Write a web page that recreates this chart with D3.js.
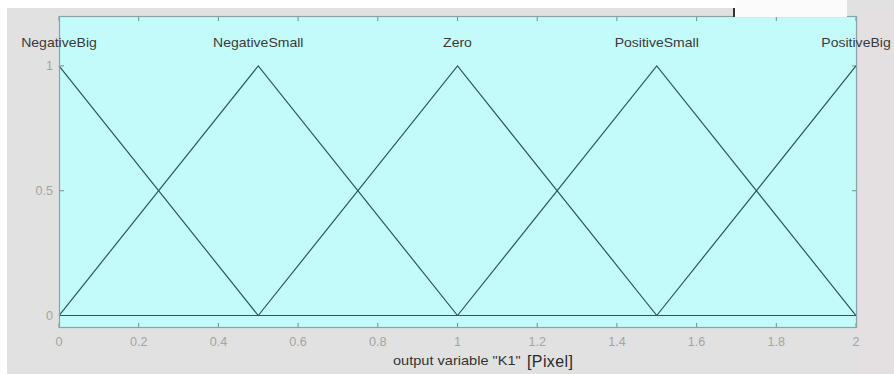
<!DOCTYPE html>
<html>
<head>
<meta charset="utf-8">
<script src="https://cdn.jsdelivr.net/npm/d3@7/dist/d3.min.js"></script>
<style>
  html, body { margin: 0; padding: 0; background: #ffffff; }
  svg { display: block; }
  text { font-family: "Liberation Sans", Arial, sans-serif; }
</style>
</head>
<body>
<svg id="chart" width="894" height="374"></svg>
<script>
// Membership functions of output variable "K1" (triangular, over [0, 2])
const mfNames = ["NegativeBig", "NegativeSmall", "Zero", "PositiveSmall", "PositiveBig"];
const mfX = [
  [0, 0.5, 2],
  [0, 0.5, 1, 2],
  [0, 0.5, 1, 1.5, 2],
  [0, 1, 1.5, 2],
  [0, 1.5, 2]
];
const mfY = [
  [1, 0, 0],
  [0, 1, 0, 0],
  [0, 0, 1, 0, 0],
  [0, 0, 1, 0],
  [0, 0, 1]
];
const xTicks = [0, 0.2, 0.4, 0.6, 0.8, 1, 1.2, 1.4, 1.6, 1.8, 2];
const yTicks = [0, 0.5, 1];
const xTickLabels = ["0", "0.2", "0.4", "0.6", "0.8", "1", "1.2", "1.4", "1.6", "1.8", "2"];
const yTickLabels = ["0", "0.5", "1"];
const xLabel = "output variable \"K1\"";
const unitLabel = "[Pixel]";

const svg = d3.select("#chart");
const W = 894, H = 374;

// figure background
svg.append("rect").attr("x", 7).attr("y", 8).attr("width", W - 7).attr("height", H - 8).attr("fill", "#e1e1e1");
svg.append("rect").attr("x", 847).attr("y", 0).attr("width", W - 847).attr("height", 8).attr("fill", "#e1e1e1");
svg.append("rect").attr("x", 857).attr("y", 8).attr("width", W - 857).attr("height", H - 8).attr("fill", "#e4dfe0");

const plot = { left: 59, right: 856, top: 16, bottom: 328 };
const x = d3.scaleLinear().domain([0, 2]).range([plot.left, plot.right]);
const y = d3.scaleLinear().domain([-0.05, 1.2]).range([plot.bottom, plot.top]);

// axes area
svg.append("rect")
  .attr("x", plot.left).attr("y", plot.top)
  .attr("width", plot.right - plot.left + 1).attr("height", plot.bottom - plot.top)
  .attr("fill", "#c3fbfb");

// tick marks (inside, on all four sides)
const tickColor = "#6f8f8f";
const tl = 5;
const g = svg.append("g");
g.selectAll(".xtb").data(xTicks).join("line")
  .attr("x1", d => x(d)).attr("x2", d => x(d))
  .attr("y1", plot.bottom).attr("y2", plot.bottom - tl)
  .attr("stroke", tickColor).attr("stroke-width", 1);
g.selectAll(".xtt").data(xTicks).join("line")
  .attr("x1", d => x(d)).attr("x2", d => x(d))
  .attr("y1", plot.top).attr("y2", plot.top + tl)
  .attr("stroke", tickColor).attr("stroke-width", 1);
g.selectAll(".ytl").data(yTicks).join("line")
  .attr("x1", plot.left).attr("x2", plot.left + tl)
  .attr("y1", d => y(d)).attr("y2", d => y(d))
  .attr("stroke", tickColor).attr("stroke-width", 1);
g.selectAll(".ytr").data(yTicks).join("line")
  .attr("x1", plot.right + 1).attr("x2", plot.right + 1 - tl)
  .attr("y1", d => y(d)).attr("y2", d => y(d))
  .attr("stroke", tickColor).attr("stroke-width", 1);

// membership function curves
const line = d3.line().x(d => x(d[0])).y(d => y(d[1]));
svg.append("g").selectAll("path").data(mfX.map((xs, i) => xs.map((v, j) => [v, mfY[i][j]])))
  .join("path")
  .attr("d", line)
  .attr("fill", "none")
  .attr("stroke", "#2c5858")
  .attr("stroke-width", 1.2)
  .attr("stroke-linejoin", "miter");

// axes box
svg.append("rect")
  .attr("x", plot.left + 0.5).attr("y", plot.top + 0.5)
  .attr("width", plot.right - plot.left).attr("height", plot.bottom - plot.top - 1)
  .attr("fill", "none").attr("stroke", "#88a4a4").attr("stroke-width", 1.2);

// tick labels
svg.append("g").selectAll("text").data(xTicks).join("text")
  .attr("transform", d => `translate(${x(d)},346) scale(1.05,1)`)
  .attr("text-anchor", "middle")
  .attr("font-size", 12)
  .attr("fill", "#a4a4a4")
  .text((d, i) => xTickLabels[i]);
svg.append("g").selectAll("text").data(yTicks).join("text")
  .attr("transform", d => `translate(${plot.left - 6},${y(d) + 4}) scale(1.05,1)`)
  .attr("text-anchor", "end")
  .attr("font-size", 12)
  .attr("fill", "#a4a4a4")
  .text((d, i) => yTickLabels[i]);

// membership function names above each peak
svg.append("g").selectAll("text").data(mfNames).join("text")
  .attr("transform", (d, i) => {
    const k = mfY[i].indexOf(1);
    return `translate(${x(mfX[i][k])},${y(1.08) + 1}) scale(1.08,1)`;
  })
  .attr("text-anchor", "middle")
  .attr("font-size", 13)
  .attr("fill", "#3a3a3a")
  .text(d => d);

// axis label and unit
svg.append("text")
  .attr("transform", `translate(393,365) scale(1.12,1)`)
  .attr("font-size", 13)
  .attr("fill", "#333333")
  .text(xLabel);
svg.append("text")
  .attr("x", 527).attr("y", 367)
  .attr("font-size", 16)
  .attr("letter-spacing", 0.4)
  .attr("fill", "#2a2a2a")
  .text(unitLabel);

// window fragment at the top edge
svg.append("rect").attr("x", 735).attr("y", 0).attr("width", 112).attr("height", 17).attr("fill", "#fbfbfb");
svg.append("line").attr("x1", 734).attr("x2", 734).attr("y1", 8).attr("y2", 17)
  .attr("stroke", "#333333").attr("stroke-width", 2);
</script>
</body>
</html>
